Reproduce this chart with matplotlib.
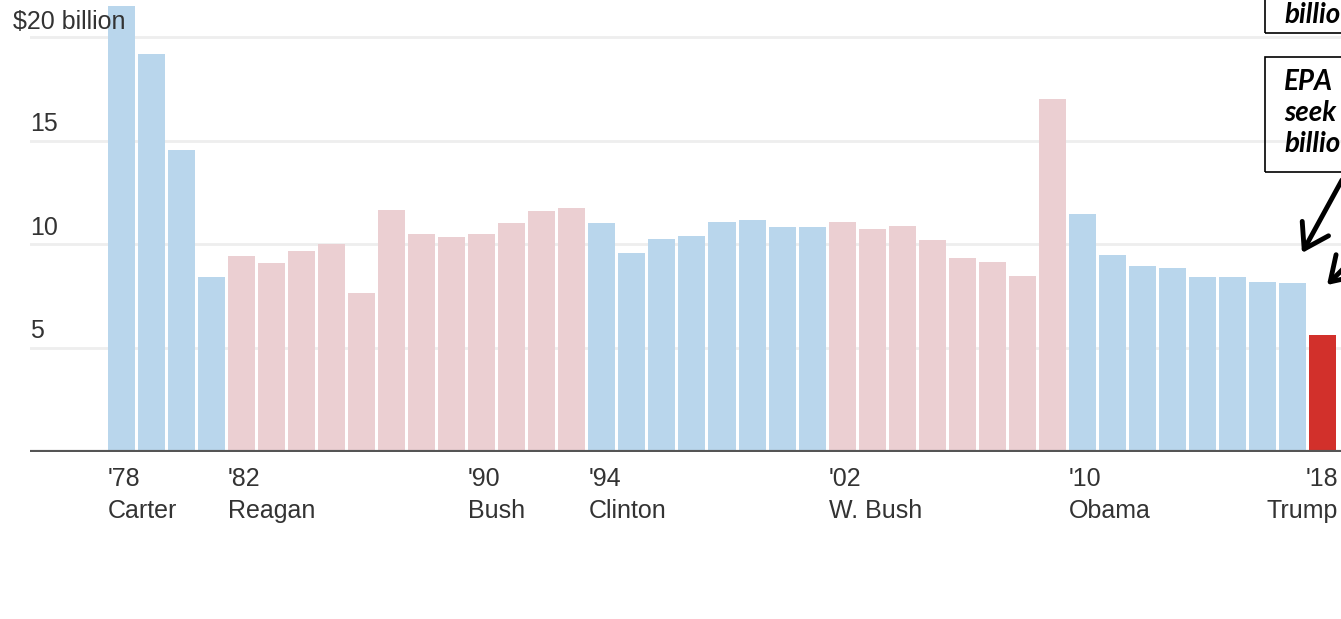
import matplotlib
matplotlib.use('Agg')
import matplotlib.pyplot as plt
from matplotlib.patches import Rectangle

# ==============================================================================
#  DATA  (EPA budget, billions of dollars)
# ==============================================================================

YEARS = list(range(1978, 2019))
BUDGET = [21.5, 19.2, 14.55, 8.43, 9.45, 9.1, 9.7, 10.0, 7.65, 11.65, 10.5, 10.35,
          10.5, 11.05, 11.6, 11.75, 11.05, 9.6, 10.25, 10.4, 11.07, 11.2, 10.85, 10.85,
          11.07, 10.73, 10.9, 10.2, 9.33, 9.17, 8.5, 17.0, 11.45, 9.5, 8.98, 8.88,
          8.42, 8.42, 8.2, 8.13, 5.65]
PARTY = (['D'] * 4 + ['R'] * 12 + ['D'] * 8 + ['R'] * 8 + ['D'] * 8 + ['T'])
LABEL_YEARS = [1978, 1982, 1990, 1994, 2002, 2010, 2018]
LABEL_NAMES = ['Carter', 'Reagan', 'Bush', 'Clinton', 'W. Bush', 'Obama', 'Trump']
Y_TICKS = [5, 10, 15]

COLORS = {'D': '#b9d6ec', 'R': '#ebcfd2', 'T': '#d2302b'}

plt.rcParams['font.family'] = ['Liberation Sans', 'DejaVu Sans']

fig = plt.figure(figsize=(13.41, 6.19), dpi=100)
ax = fig.add_axes([30 / 1341, 167 / 619, 1311 / 1341, 452 / 619])

ax.bar(YEARS, BUDGET, width=0.9, color=[COLORS[p] for p in PARTY], zorder=2)

for v in Y_TICKS + [20]:
    ax.axhline(v, color='#eeeeee', lw=2, zorder=1)
ax.axhline(0, color='#555555', lw=3, zorder=3)

ax.set_xlim(1974.97, 2018.6)
ax.set_ylim(0, 21.78)
ax.axis('off')

# y labels sit just above their gridlines
for v in Y_TICKS:
    ax.text(0.0, v + 0.47, str(v), transform=ax.get_yaxis_transform(),
            ha='left', va='baseline', fontsize=18, color='#333333')
ax.text(-0.013, 20.4, '$20 billion', transform=ax.get_yaxis_transform(),
        ha='left', va='baseline', fontsize=18, color='#333333')

# year / president labels under the axis
xt = ax.get_xaxis_transform()
for yr, name in zip(LABEL_YEARS, LABEL_NAMES):
    if yr == YEARS[-1]:
        x, ha = yr + 0.5, 'right'
    else:
        x, ha = yr - 0.45, 'left'
    ax.text(x, -0.033, "'" + str(yr)[2:], transform=xt, ha=ha, va='top',
            fontsize=18, color='#333333')
    ax.text(x, -0.104, name, transform=xt, ha=ha, va='top',
            fontsize=18, color='#333333')

# annotation boxes (cut off at the right edge, as in the reference)
ann_font = dict(family=['Lato', 'DejaVu Sans'], weight='bold', style='italic',
                fontsize=20, color='black')
fig.add_artist(Rectangle((1265 / 1341, (619 - 33) / 619), 0.2, 0.2,
                         transform=fig.transFigure, fill=False, lw=1.2, ec='black'))
fig.text(1284 / 1341, (619 - 15) / 619, 'billio', va='center', ha='left', **ann_font)

fig.add_artist(Rectangle((1265 / 1341, (619 - 172) / 619), 0.2, 115 / 619,
                         transform=fig.transFigure, fill=False, lw=1.2, ec='black'))
for i, line in enumerate(['EPA', 'seek', 'billio']):
    fig.text(1284 / 1341, (619 - 82 - 31 * i) / 619, line, va='center', ha='left',
             **ann_font)

arrow = dict(arrowstyle='->,head_length=0.7,head_width=0.45', lw=3.5, color='black',
             shrinkA=0, shrinkB=0, mutation_scale=24)
fig.add_artist(plt.Annotation('', xy=(1302 / 1341, (619 - 253) / 619),
                              xytext=(1342 / 1341, (619 - 180) / 619),
                              xycoords='figure fraction', textcoords='figure fraction',
                              arrowprops=arrow))
fig.add_artist(plt.Annotation('', xy=(1327 / 1341, (619 - 285) / 619),
                              xytext=(1360 / 1341, (619 - 252) / 619),
                              xycoords='figure fraction', textcoords='figure fraction',
                              arrowprops=arrow))

fig.savefig('out.png', dpi=100)
